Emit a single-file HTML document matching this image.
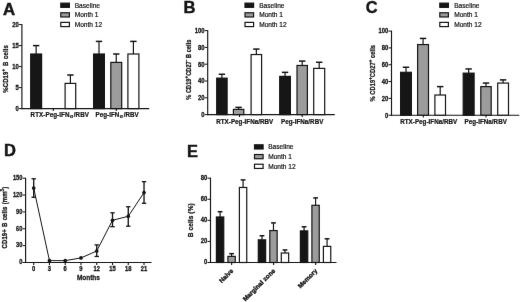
<!DOCTYPE html>
<html><head><meta charset="utf-8"><title>Figure</title>
<style>
html,body{margin:0;padding:0;background:#fff;}
body{width:520px;height:302px;overflow:hidden;font-family:"Liberation Sans",sans-serif;}
svg{display:block;}
svg text{font-family:"Liberation Sans",sans-serif;}
</style></head><body>
<svg width="520" height="302" viewBox="0 0 520 302">
<defs><filter id="soft" x="0" y="0" width="520" height="302" filterUnits="userSpaceOnUse" color-interpolation-filters="sRGB"><feConvolveMatrix order="3" kernelMatrix="0 1 0 1 22 1 0 1 0" divisor="26" edgeMode="duplicate" preserveAlpha="false"/></filter></defs>
<g filter="url(#soft)">
<rect x="0" y="0" width="520" height="302" fill="#ffffff"/>
<text x="0" y="0" font-size="16.8" font-weight="bold" text-anchor="start" fill="#161616" stroke="#161616" stroke-width="0.5" letter-spacing="0" word-spacing="0" transform="translate(3.00 14.70) rotate(0) scale(1.0 1.0)" >A</text>
<text x="0" y="0" font-size="16.6" font-weight="bold" text-anchor="start" fill="#161616" stroke="#161616" stroke-width="0.45" letter-spacing="0" word-spacing="0" transform="translate(183.50 13.10) rotate(0) scale(1.0 1.0)" >B</text>
<text x="0" y="0" font-size="16.4" font-weight="bold" text-anchor="start" fill="#161616" stroke="#161616" stroke-width="0.4" letter-spacing="0" word-spacing="0" transform="translate(365.80 13.40) rotate(0) scale(1.0 1.0)" >C</text>
<text x="0" y="0" font-size="16.5" font-weight="bold" text-anchor="start" fill="#161616" stroke="#161616" stroke-width="0.45" letter-spacing="0" word-spacing="0" transform="translate(3.90 156.20) rotate(0) scale(1.0 1.0)" >D</text>
<text x="0" y="0" font-size="16.4" font-weight="bold" text-anchor="start" fill="#161616" stroke="#161616" stroke-width="0.45" letter-spacing="0" word-spacing="0" transform="translate(186.90 156.60) rotate(0) scale(1.0 1.0)" >E</text>
<line x1="21.90" y1="24.10" x2="21.90" y2="109.15" stroke="#161616" stroke-width="1.15"/>
<line x1="18.90" y1="108.60" x2="21.90" y2="108.60" stroke="#161616" stroke-width="1.0"/>
<text x="0" y="0" font-size="5.9" font-weight="bold" text-anchor="end" fill="#161616" stroke="#161616" stroke-width="0.25" letter-spacing="0" word-spacing="0" transform="translate(18.70 110.95) rotate(0) scale(1.0 1.12)" >0</text>
<line x1="18.90" y1="87.60" x2="21.90" y2="87.60" stroke="#161616" stroke-width="1.0"/>
<text x="0" y="0" font-size="5.9" font-weight="bold" text-anchor="end" fill="#161616" stroke="#161616" stroke-width="0.25" letter-spacing="0" word-spacing="0" transform="translate(18.70 89.95) rotate(0) scale(1.0 1.12)" >5</text>
<line x1="18.90" y1="66.60" x2="21.90" y2="66.60" stroke="#161616" stroke-width="1.0"/>
<text x="0" y="0" font-size="5.9" font-weight="bold" text-anchor="end" fill="#161616" stroke="#161616" stroke-width="0.25" letter-spacing="0" word-spacing="0" transform="translate(18.70 68.95) rotate(0) scale(1.0 1.12)" >10</text>
<line x1="18.90" y1="45.60" x2="21.90" y2="45.60" stroke="#161616" stroke-width="1.0"/>
<text x="0" y="0" font-size="5.9" font-weight="bold" text-anchor="end" fill="#161616" stroke="#161616" stroke-width="0.25" letter-spacing="0" word-spacing="0" transform="translate(18.70 47.95) rotate(0) scale(1.0 1.12)" >15</text>
<line x1="18.90" y1="24.60" x2="21.90" y2="24.60" stroke="#161616" stroke-width="1.0"/>
<text x="0" y="0" font-size="5.9" font-weight="bold" text-anchor="end" fill="#161616" stroke="#161616" stroke-width="0.25" letter-spacing="0" word-spacing="0" transform="translate(18.70 26.95) rotate(0) scale(1.0 1.12)" >20</text>
<line x1="21.35" y1="108.60" x2="149.20" y2="108.60" stroke="#161616" stroke-width="1.15"/>
<line x1="53.30" y1="108.60" x2="53.30" y2="111.00" stroke="#161616" stroke-width="1.1"/>
<line x1="116.30" y1="108.60" x2="116.30" y2="111.00" stroke="#161616" stroke-width="1.1"/>
<line x1="36.15" y1="54.00" x2="36.15" y2="45.60" stroke="#161616" stroke-width="1.2"/>
<line x1="32.95" y1="45.60" x2="39.35" y2="45.60" stroke="#161616" stroke-width="1.5"/>
<rect x="30.70" y="54.00" width="10.90" height="54.60" fill="#161616" stroke="#161616" stroke-width="1.2"/>
<line x1="70.40" y1="83.40" x2="70.40" y2="75.00" stroke="#161616" stroke-width="1.2"/>
<line x1="67.20" y1="75.00" x2="73.60" y2="75.00" stroke="#161616" stroke-width="1.5"/>
<rect x="65.10" y="83.40" width="10.60" height="25.20" fill="#fff" stroke="#161616" stroke-width="1.2"/>
<line x1="99.00" y1="54.00" x2="99.00" y2="41.40" stroke="#161616" stroke-width="1.2"/>
<line x1="95.80" y1="41.40" x2="102.20" y2="41.40" stroke="#161616" stroke-width="1.5"/>
<rect x="93.60" y="54.00" width="10.80" height="54.60" fill="#161616" stroke="#161616" stroke-width="1.2"/>
<line x1="116.25" y1="62.40" x2="116.25" y2="54.00" stroke="#161616" stroke-width="1.2"/>
<line x1="113.05" y1="54.00" x2="119.45" y2="54.00" stroke="#161616" stroke-width="1.5"/>
<rect x="110.80" y="62.40" width="10.90" height="46.20" fill="#9c9c9c" stroke="#161616" stroke-width="1.2"/>
<line x1="133.40" y1="54.00" x2="133.40" y2="41.40" stroke="#161616" stroke-width="1.2"/>
<line x1="130.20" y1="41.40" x2="136.60" y2="41.40" stroke="#161616" stroke-width="1.5"/>
<rect x="127.90" y="54.00" width="11.00" height="54.60" fill="#fff" stroke="#161616" stroke-width="1.2"/>
<text x="0" y="0" font-size="6.25" font-weight="bold" text-anchor="start" fill="#161616" stroke="#161616" stroke-width="0.22" letter-spacing="0.07" word-spacing="0" transform="translate(30.60 117.20) rotate(0) scale(1.0 1.04)" >RTX-Peg-IFN<tspan font-size="5.0" dy="1.0" dx="0.5" stroke-width="0.2">α</tspan><tspan dy="-1.0" dx="0.7">/RBV</tspan></text>
<text x="0" y="0" font-size="6.25" font-weight="bold" text-anchor="start" fill="#161616" stroke="#161616" stroke-width="0.22" letter-spacing="0.04" word-spacing="0" transform="translate(95.50 117.20) rotate(0) scale(1.0 1.04)" >Peg-IFN<tspan font-size="5.0" dy="1.0" dx="0.5" stroke-width="0.2">α</tspan><tspan dy="-1.0" dx="0.7">/RBV</tspan></text>
<text x="0" y="0" font-size="6.0" font-weight="bold" text-anchor="middle" fill="#161616" stroke="#161616" stroke-width="0.24" letter-spacing="0.1" word-spacing="1.0" transform="translate(7.50 68.90) rotate(-90) scale(1.0 1.15)" >%CD19<tspan dy="-2.3" font-size="4.4">+</tspan><tspan dy="2.3"> B cells</tspan></text>
<rect x="60.80" y="3.15" width="8.60" height="4.20" fill="#161616" stroke="#161616" stroke-width="1.2"/>
<text x="0" y="0" font-size="6.6" font-weight="normal" text-anchor="start" fill="#161616" stroke="#161616" stroke-width="0.2" letter-spacing="0" word-spacing="0" transform="translate(74.70 7.55) rotate(0) scale(1.0 1.0)" >Baseline</text>
<rect x="60.80" y="12.77" width="8.60" height="4.20" fill="#9c9c9c" stroke="#161616" stroke-width="1.2"/>
<text x="0" y="0" font-size="6.6" font-weight="normal" text-anchor="start" fill="#161616" stroke="#161616" stroke-width="0.2" letter-spacing="0" word-spacing="0" transform="translate(74.70 17.17) rotate(0) scale(1.0 1.0)" >Month 1</text>
<rect x="60.80" y="22.39" width="8.60" height="4.20" fill="#fff" stroke="#161616" stroke-width="1.2"/>
<text x="0" y="0" font-size="6.6" font-weight="normal" text-anchor="start" fill="#161616" stroke="#161616" stroke-width="0.2" letter-spacing="0" word-spacing="0" transform="translate(74.70 26.79) rotate(0) scale(1.0 1.0)" >Month 12</text>
<line x1="207.70" y1="30.10" x2="207.70" y2="115.15" stroke="#161616" stroke-width="1.15"/>
<line x1="204.70" y1="114.60" x2="207.70" y2="114.60" stroke="#161616" stroke-width="1.0"/>
<text x="0" y="0" font-size="5.9" font-weight="bold" text-anchor="end" fill="#161616" stroke="#161616" stroke-width="0.25" letter-spacing="0" word-spacing="0" transform="translate(204.50 116.95) rotate(0) scale(1.0 1.12)" >0</text>
<line x1="204.70" y1="97.80" x2="207.70" y2="97.80" stroke="#161616" stroke-width="1.0"/>
<text x="0" y="0" font-size="5.9" font-weight="bold" text-anchor="end" fill="#161616" stroke="#161616" stroke-width="0.25" letter-spacing="0" word-spacing="0" transform="translate(204.50 100.15) rotate(0) scale(1.0 1.12)" >20</text>
<line x1="204.70" y1="81.00" x2="207.70" y2="81.00" stroke="#161616" stroke-width="1.0"/>
<text x="0" y="0" font-size="5.9" font-weight="bold" text-anchor="end" fill="#161616" stroke="#161616" stroke-width="0.25" letter-spacing="0" word-spacing="0" transform="translate(204.50 83.35) rotate(0) scale(1.0 1.12)" >40</text>
<line x1="204.70" y1="64.20" x2="207.70" y2="64.20" stroke="#161616" stroke-width="1.0"/>
<text x="0" y="0" font-size="5.9" font-weight="bold" text-anchor="end" fill="#161616" stroke="#161616" stroke-width="0.25" letter-spacing="0" word-spacing="0" transform="translate(204.50 66.55) rotate(0) scale(1.0 1.12)" >60</text>
<line x1="204.70" y1="47.40" x2="207.70" y2="47.40" stroke="#161616" stroke-width="1.0"/>
<text x="0" y="0" font-size="5.9" font-weight="bold" text-anchor="end" fill="#161616" stroke="#161616" stroke-width="0.25" letter-spacing="0" word-spacing="0" transform="translate(204.50 49.75) rotate(0) scale(1.0 1.12)" >80</text>
<line x1="204.70" y1="30.60" x2="207.70" y2="30.60" stroke="#161616" stroke-width="1.0"/>
<text x="0" y="0" font-size="5.9" font-weight="bold" text-anchor="end" fill="#161616" stroke="#161616" stroke-width="0.25" letter-spacing="0" word-spacing="0" transform="translate(204.50 32.95) rotate(0) scale(1.0 1.12)" >100</text>
<line x1="207.15" y1="114.60" x2="334.80" y2="114.60" stroke="#161616" stroke-width="1.15"/>
<line x1="239.50" y1="114.60" x2="239.50" y2="117.00" stroke="#161616" stroke-width="1.1"/>
<line x1="302.20" y1="114.60" x2="302.20" y2="117.00" stroke="#161616" stroke-width="1.1"/>
<line x1="221.90" y1="78.14" x2="221.90" y2="74.28" stroke="#161616" stroke-width="1.2"/>
<line x1="218.70" y1="74.28" x2="225.10" y2="74.28" stroke="#161616" stroke-width="1.5"/>
<rect x="216.70" y="78.14" width="10.40" height="36.46" fill="#161616" stroke="#161616" stroke-width="1.2"/>
<line x1="238.60" y1="109.39" x2="238.60" y2="107.38" stroke="#161616" stroke-width="1.2"/>
<line x1="235.40" y1="107.38" x2="241.80" y2="107.38" stroke="#161616" stroke-width="1.5"/>
<rect x="233.40" y="109.39" width="10.40" height="5.21" fill="#9c9c9c" stroke="#161616" stroke-width="1.2"/>
<line x1="256.35" y1="54.54" x2="256.35" y2="49.08" stroke="#161616" stroke-width="1.2"/>
<line x1="253.15" y1="49.08" x2="259.55" y2="49.08" stroke="#161616" stroke-width="1.5"/>
<rect x="251.10" y="54.54" width="10.50" height="60.06" fill="#fff" stroke="#161616" stroke-width="1.2"/>
<line x1="285.05" y1="76.38" x2="285.05" y2="72.35" stroke="#161616" stroke-width="1.2"/>
<line x1="281.85" y1="72.35" x2="288.25" y2="72.35" stroke="#161616" stroke-width="1.5"/>
<rect x="279.70" y="76.38" width="10.70" height="38.22" fill="#161616" stroke="#161616" stroke-width="1.2"/>
<line x1="302.20" y1="65.46" x2="302.20" y2="61.09" stroke="#161616" stroke-width="1.2"/>
<line x1="299.00" y1="61.09" x2="305.40" y2="61.09" stroke="#161616" stroke-width="1.5"/>
<rect x="297.00" y="65.46" width="10.40" height="49.14" fill="#9c9c9c" stroke="#161616" stroke-width="1.2"/>
<line x1="319.20" y1="68.40" x2="319.20" y2="62.27" stroke="#161616" stroke-width="1.2"/>
<line x1="316.00" y1="62.27" x2="322.40" y2="62.27" stroke="#161616" stroke-width="1.5"/>
<rect x="313.70" y="68.40" width="11.00" height="46.20" fill="#fff" stroke="#161616" stroke-width="1.2"/>
<text x="0" y="0" font-size="6.25" font-weight="bold" text-anchor="start" fill="#161616" stroke="#161616" stroke-width="0.22" letter-spacing="0.04" word-spacing="0" transform="translate(216.20 123.60) rotate(0) scale(1.0 1.04)" >RTX-Peg-IFNa/RBV</text>
<text x="0" y="0" font-size="6.25" font-weight="bold" text-anchor="start" fill="#161616" stroke="#161616" stroke-width="0.22" letter-spacing="0.04" word-spacing="0" transform="translate(281.00 123.60) rotate(0) scale(1.0 1.04)" >Peg-IFNa/RBV</text>
<text x="0" y="0" font-size="5.6" font-weight="bold" text-anchor="middle" fill="#161616" stroke="#161616" stroke-width="0.24" letter-spacing="0.08" word-spacing="0" transform="translate(190.50 69.60) rotate(-90) scale(1.0 1.15)" >% CD19<tspan dy="-2.3" font-size="4.4">+</tspan><tspan dy="2.3">CD27</tspan><tspan dy="-2.3" font-size="4.4">-</tspan><tspan dy="2.3"> B cells</tspan></text>
<rect x="245.00" y="3.15" width="8.60" height="4.20" fill="#161616" stroke="#161616" stroke-width="1.2"/>
<text x="0" y="0" font-size="6.6" font-weight="normal" text-anchor="start" fill="#161616" stroke="#161616" stroke-width="0.2" letter-spacing="0" word-spacing="0" transform="translate(259.20 7.55) rotate(0) scale(1.0 1.0)" >Baseline</text>
<rect x="245.00" y="12.77" width="8.60" height="4.20" fill="#9c9c9c" stroke="#161616" stroke-width="1.2"/>
<text x="0" y="0" font-size="6.6" font-weight="normal" text-anchor="start" fill="#161616" stroke="#161616" stroke-width="0.2" letter-spacing="0" word-spacing="0" transform="translate(259.20 17.17) rotate(0) scale(1.0 1.0)" >Month 1</text>
<rect x="245.00" y="22.39" width="8.60" height="4.20" fill="#fff" stroke="#161616" stroke-width="1.2"/>
<text x="0" y="0" font-size="6.6" font-weight="normal" text-anchor="start" fill="#161616" stroke="#161616" stroke-width="0.2" letter-spacing="0" word-spacing="0" transform="translate(259.20 26.79) rotate(0) scale(1.0 1.0)" >Month 12</text>
<line x1="391.50" y1="30.60" x2="391.50" y2="115.75" stroke="#161616" stroke-width="1.15"/>
<line x1="388.50" y1="115.20" x2="391.50" y2="115.20" stroke="#161616" stroke-width="1.0"/>
<text x="0" y="0" font-size="5.9" font-weight="bold" text-anchor="end" fill="#161616" stroke="#161616" stroke-width="0.25" letter-spacing="0" word-spacing="0" transform="translate(388.30 117.55) rotate(0) scale(1.0 1.12)" >0</text>
<line x1="388.50" y1="98.38" x2="391.50" y2="98.38" stroke="#161616" stroke-width="1.0"/>
<text x="0" y="0" font-size="5.9" font-weight="bold" text-anchor="end" fill="#161616" stroke="#161616" stroke-width="0.25" letter-spacing="0" word-spacing="0" transform="translate(388.30 100.73) rotate(0) scale(1.0 1.12)" >20</text>
<line x1="388.50" y1="81.56" x2="391.50" y2="81.56" stroke="#161616" stroke-width="1.0"/>
<text x="0" y="0" font-size="5.9" font-weight="bold" text-anchor="end" fill="#161616" stroke="#161616" stroke-width="0.25" letter-spacing="0" word-spacing="0" transform="translate(388.30 83.91) rotate(0) scale(1.0 1.12)" >40</text>
<line x1="388.50" y1="64.74" x2="391.50" y2="64.74" stroke="#161616" stroke-width="1.0"/>
<text x="0" y="0" font-size="5.9" font-weight="bold" text-anchor="end" fill="#161616" stroke="#161616" stroke-width="0.25" letter-spacing="0" word-spacing="0" transform="translate(388.30 67.09) rotate(0) scale(1.0 1.12)" >60</text>
<line x1="388.50" y1="47.92" x2="391.50" y2="47.92" stroke="#161616" stroke-width="1.0"/>
<text x="0" y="0" font-size="5.9" font-weight="bold" text-anchor="end" fill="#161616" stroke="#161616" stroke-width="0.25" letter-spacing="0" word-spacing="0" transform="translate(388.30 50.27) rotate(0) scale(1.0 1.12)" >80</text>
<line x1="388.50" y1="31.10" x2="391.50" y2="31.10" stroke="#161616" stroke-width="1.0"/>
<text x="0" y="0" font-size="5.9" font-weight="bold" text-anchor="end" fill="#161616" stroke="#161616" stroke-width="0.25" letter-spacing="0" word-spacing="0" transform="translate(388.30 33.45) rotate(0) scale(1.0 1.12)" >100</text>
<line x1="390.95" y1="115.20" x2="519.30" y2="115.20" stroke="#161616" stroke-width="1.15"/>
<line x1="423.30" y1="115.20" x2="423.30" y2="117.60" stroke="#161616" stroke-width="1.1"/>
<line x1="486.00" y1="115.20" x2="486.00" y2="117.60" stroke="#161616" stroke-width="1.1"/>
<line x1="406.00" y1="72.31" x2="406.00" y2="67.26" stroke="#161616" stroke-width="1.2"/>
<line x1="402.80" y1="67.26" x2="409.20" y2="67.26" stroke="#161616" stroke-width="1.5"/>
<rect x="400.60" y="72.31" width="10.80" height="42.89" fill="#161616" stroke="#161616" stroke-width="1.2"/>
<line x1="423.05" y1="44.56" x2="423.05" y2="38.42" stroke="#161616" stroke-width="1.2"/>
<line x1="419.85" y1="38.42" x2="426.25" y2="38.42" stroke="#161616" stroke-width="1.5"/>
<rect x="417.60" y="44.56" width="10.90" height="70.64" fill="#9c9c9c" stroke="#161616" stroke-width="1.2"/>
<line x1="440.20" y1="95.02" x2="440.20" y2="86.61" stroke="#161616" stroke-width="1.2"/>
<line x1="437.00" y1="86.61" x2="443.40" y2="86.61" stroke="#161616" stroke-width="1.5"/>
<rect x="434.90" y="95.02" width="10.60" height="20.18" fill="#fff" stroke="#161616" stroke-width="1.2"/>
<line x1="468.65" y1="73.15" x2="468.65" y2="68.94" stroke="#161616" stroke-width="1.2"/>
<line x1="465.45" y1="68.94" x2="471.85" y2="68.94" stroke="#161616" stroke-width="1.5"/>
<rect x="463.20" y="73.15" width="10.90" height="42.05" fill="#161616" stroke="#161616" stroke-width="1.2"/>
<line x1="486.00" y1="86.61" x2="486.00" y2="83.07" stroke="#161616" stroke-width="1.2"/>
<line x1="482.80" y1="83.07" x2="489.20" y2="83.07" stroke="#161616" stroke-width="1.5"/>
<rect x="480.80" y="86.61" width="10.40" height="28.59" fill="#9c9c9c" stroke="#161616" stroke-width="1.2"/>
<line x1="503.10" y1="83.07" x2="503.10" y2="79.88" stroke="#161616" stroke-width="1.2"/>
<line x1="499.90" y1="79.88" x2="506.30" y2="79.88" stroke="#161616" stroke-width="1.5"/>
<rect x="497.70" y="83.07" width="10.80" height="32.13" fill="#fff" stroke="#161616" stroke-width="1.2"/>
<text x="0" y="0" font-size="6.25" font-weight="bold" text-anchor="start" fill="#161616" stroke="#161616" stroke-width="0.22" letter-spacing="0.04" word-spacing="0" transform="translate(400.20 123.90) rotate(0) scale(1.0 1.04)" >RTX-Peg-IFNa/RBV</text>
<text x="0" y="0" font-size="6.25" font-weight="bold" text-anchor="start" fill="#161616" stroke="#161616" stroke-width="0.22" letter-spacing="0.04" word-spacing="0" transform="translate(464.50 123.90) rotate(0) scale(1.0 1.04)" >Peg-IFNa/RBV</text>
<text x="0" y="0" font-size="5.7" font-weight="bold" text-anchor="middle" fill="#161616" stroke="#161616" stroke-width="0.24" letter-spacing="0.08" word-spacing="0" transform="translate(374.50 73.20) rotate(-90) scale(1.0 1.15)" >% CD19<tspan dy="-2.3" font-size="4.4">+</tspan><tspan dy="2.3">CD27</tspan><tspan dy="-2.3" font-size="4.4">+</tspan><tspan dy="2.3"> cells</tspan></text>
<rect x="439.80" y="3.15" width="8.60" height="4.20" fill="#161616" stroke="#161616" stroke-width="1.2"/>
<text x="0" y="0" font-size="6.6" font-weight="normal" text-anchor="start" fill="#161616" stroke="#161616" stroke-width="0.2" letter-spacing="0" word-spacing="0" transform="translate(454.20 7.55) rotate(0) scale(1.0 1.0)" >Baseline</text>
<rect x="439.80" y="12.77" width="8.60" height="4.20" fill="#9c9c9c" stroke="#161616" stroke-width="1.2"/>
<text x="0" y="0" font-size="6.6" font-weight="normal" text-anchor="start" fill="#161616" stroke="#161616" stroke-width="0.2" letter-spacing="0" word-spacing="0" transform="translate(454.20 17.17) rotate(0) scale(1.0 1.0)" >Month 1</text>
<rect x="439.80" y="22.39" width="8.60" height="4.20" fill="#fff" stroke="#161616" stroke-width="1.2"/>
<text x="0" y="0" font-size="6.6" font-weight="normal" text-anchor="start" fill="#161616" stroke="#161616" stroke-width="0.2" letter-spacing="0" word-spacing="0" transform="translate(454.20 26.79) rotate(0) scale(1.0 1.0)" >Month 12</text>
<line x1="25.60" y1="177.70" x2="25.60" y2="263.05" stroke="#161616" stroke-width="1.15"/>
<line x1="22.60" y1="262.50" x2="25.60" y2="262.50" stroke="#161616" stroke-width="1.0"/>
<text x="0" y="0" font-size="5.7" font-weight="bold" text-anchor="end" fill="#161616" stroke="#161616" stroke-width="0.25" letter-spacing="0" word-spacing="0" transform="translate(22.40 264.35) rotate(0) scale(1.0 1.12)" >0</text>
<line x1="22.60" y1="245.64" x2="25.60" y2="245.64" stroke="#161616" stroke-width="1.0"/>
<text x="0" y="0" font-size="5.7" font-weight="bold" text-anchor="end" fill="#161616" stroke="#161616" stroke-width="0.25" letter-spacing="0" word-spacing="0" transform="translate(22.40 247.49) rotate(0) scale(1.0 1.12)" >30</text>
<line x1="22.60" y1="228.78" x2="25.60" y2="228.78" stroke="#161616" stroke-width="1.0"/>
<text x="0" y="0" font-size="5.7" font-weight="bold" text-anchor="end" fill="#161616" stroke="#161616" stroke-width="0.25" letter-spacing="0" word-spacing="0" transform="translate(22.40 230.63) rotate(0) scale(1.0 1.12)" >60</text>
<line x1="22.60" y1="211.92" x2="25.60" y2="211.92" stroke="#161616" stroke-width="1.0"/>
<text x="0" y="0" font-size="5.7" font-weight="bold" text-anchor="end" fill="#161616" stroke="#161616" stroke-width="0.25" letter-spacing="0" word-spacing="0" transform="translate(22.40 213.77) rotate(0) scale(1.0 1.12)" >90</text>
<line x1="22.60" y1="195.06" x2="25.60" y2="195.06" stroke="#161616" stroke-width="1.0"/>
<text x="0" y="0" font-size="5.7" font-weight="bold" text-anchor="end" fill="#161616" stroke="#161616" stroke-width="0.25" letter-spacing="0" word-spacing="0" transform="translate(22.40 196.91) rotate(0) scale(1.0 1.12)" >120</text>
<line x1="22.60" y1="178.20" x2="25.60" y2="178.20" stroke="#161616" stroke-width="1.0"/>
<text x="0" y="0" font-size="5.7" font-weight="bold" text-anchor="end" fill="#161616" stroke="#161616" stroke-width="0.25" letter-spacing="0" word-spacing="0" transform="translate(22.40 180.05) rotate(0) scale(1.0 1.12)" >150</text>
<line x1="25.05" y1="262.50" x2="151.50" y2="262.50" stroke="#161616" stroke-width="1.15"/>
<line x1="33.70" y1="262.50" x2="33.70" y2="265.10" stroke="#161616" stroke-width="1.1"/>
<text x="0" y="0" font-size="5.8" font-weight="bold" text-anchor="middle" fill="#161616" stroke="#161616" stroke-width="0.25" letter-spacing="0" word-spacing="0" transform="translate(33.70 270.85) rotate(0) scale(1.0 1.16)" >0</text>
<line x1="49.46" y1="262.50" x2="49.46" y2="265.10" stroke="#161616" stroke-width="1.1"/>
<text x="0" y="0" font-size="5.8" font-weight="bold" text-anchor="middle" fill="#161616" stroke="#161616" stroke-width="0.25" letter-spacing="0" word-spacing="0" transform="translate(49.46 270.85) rotate(0) scale(1.0 1.16)" >3</text>
<line x1="65.22" y1="262.50" x2="65.22" y2="265.10" stroke="#161616" stroke-width="1.1"/>
<text x="0" y="0" font-size="5.8" font-weight="bold" text-anchor="middle" fill="#161616" stroke="#161616" stroke-width="0.25" letter-spacing="0" word-spacing="0" transform="translate(65.22 270.85) rotate(0) scale(1.0 1.16)" >6</text>
<line x1="80.98" y1="262.50" x2="80.98" y2="265.10" stroke="#161616" stroke-width="1.1"/>
<text x="0" y="0" font-size="5.8" font-weight="bold" text-anchor="middle" fill="#161616" stroke="#161616" stroke-width="0.25" letter-spacing="0" word-spacing="0" transform="translate(80.98 270.85) rotate(0) scale(1.0 1.16)" >9</text>
<line x1="96.74" y1="262.50" x2="96.74" y2="265.10" stroke="#161616" stroke-width="1.1"/>
<text x="0" y="0" font-size="5.8" font-weight="bold" text-anchor="middle" fill="#161616" stroke="#161616" stroke-width="0.25" letter-spacing="0" word-spacing="0" transform="translate(96.74 270.85) rotate(0) scale(1.0 1.16)" >12</text>
<line x1="112.50" y1="262.50" x2="112.50" y2="265.10" stroke="#161616" stroke-width="1.1"/>
<text x="0" y="0" font-size="5.8" font-weight="bold" text-anchor="middle" fill="#161616" stroke="#161616" stroke-width="0.25" letter-spacing="0" word-spacing="0" transform="translate(112.50 270.85) rotate(0) scale(1.0 1.16)" >15</text>
<line x1="128.26" y1="262.50" x2="128.26" y2="265.10" stroke="#161616" stroke-width="1.1"/>
<text x="0" y="0" font-size="5.8" font-weight="bold" text-anchor="middle" fill="#161616" stroke="#161616" stroke-width="0.25" letter-spacing="0" word-spacing="0" transform="translate(128.26 270.85) rotate(0) scale(1.0 1.16)" >18</text>
<line x1="144.02" y1="262.50" x2="144.02" y2="265.10" stroke="#161616" stroke-width="1.1"/>
<text x="0" y="0" font-size="5.8" font-weight="bold" text-anchor="middle" fill="#161616" stroke="#161616" stroke-width="0.25" letter-spacing="0" word-spacing="0" transform="translate(144.02 270.85) rotate(0) scale(1.0 1.16)" >21</text>
<polyline points="33.70,188.03 49.46,260.65 65.22,260.65 80.98,257.95 96.74,250.98 112.50,220.29 128.26,216.30 144.02,192.59" fill="none" stroke="#161616" stroke-width="1.0"/>
<line x1="33.70" y1="197.31" x2="33.70" y2="178.76" stroke="#161616" stroke-width="1.35"/>
<line x1="31.50" y1="197.31" x2="35.90" y2="197.31" stroke="#161616" stroke-width="1.3"/>
<line x1="31.50" y1="178.76" x2="35.90" y2="178.76" stroke="#161616" stroke-width="1.3"/>
<circle cx="33.70" cy="188.03" r="1.85" fill="#161616"/>
<circle cx="49.46" cy="260.65" r="1.85" fill="#161616"/>
<circle cx="65.22" cy="260.65" r="1.85" fill="#161616"/>
<circle cx="80.98" cy="257.95" r="1.85" fill="#161616"/>
<line x1="96.74" y1="256.49" x2="96.74" y2="244.91" stroke="#161616" stroke-width="1.35"/>
<line x1="94.54" y1="256.49" x2="98.94" y2="256.49" stroke="#161616" stroke-width="1.3"/>
<line x1="94.54" y1="244.91" x2="98.94" y2="244.91" stroke="#161616" stroke-width="1.3"/>
<circle cx="96.74" cy="250.98" r="1.85" fill="#161616"/>
<line x1="112.50" y1="226.70" x2="112.50" y2="212.82" stroke="#161616" stroke-width="1.35"/>
<line x1="110.30" y1="226.70" x2="114.70" y2="226.70" stroke="#161616" stroke-width="1.3"/>
<line x1="110.30" y1="212.82" x2="114.70" y2="212.82" stroke="#161616" stroke-width="1.3"/>
<circle cx="112.50" cy="220.29" r="1.85" fill="#161616"/>
<line x1="128.26" y1="226.19" x2="128.26" y2="206.75" stroke="#161616" stroke-width="1.35"/>
<line x1="126.06" y1="226.19" x2="130.46" y2="226.19" stroke="#161616" stroke-width="1.3"/>
<line x1="126.06" y1="206.75" x2="130.46" y2="206.75" stroke="#161616" stroke-width="1.3"/>
<circle cx="128.26" cy="216.30" r="1.85" fill="#161616"/>
<line x1="144.02" y1="203.32" x2="144.02" y2="181.68" stroke="#161616" stroke-width="1.35"/>
<line x1="141.82" y1="203.32" x2="146.22" y2="203.32" stroke="#161616" stroke-width="1.3"/>
<line x1="141.82" y1="181.68" x2="146.22" y2="181.68" stroke="#161616" stroke-width="1.3"/>
<circle cx="144.02" cy="192.59" r="1.85" fill="#161616"/>
<text x="0" y="0" font-size="6.5" font-weight="bold" text-anchor="middle" fill="#161616" stroke="#161616" stroke-width="0.25" letter-spacing="0" word-spacing="0" transform="translate(88.40 280.30) rotate(0) scale(1.0 1.03)" >Months</text>
<text x="0" y="0" font-size="6.0" font-weight="bold" text-anchor="middle" fill="#161616" stroke="#161616" stroke-width="0.26" letter-spacing="0.1" word-spacing="0.4" transform="translate(7.30 217.60) rotate(-90) scale(1.0 1.22)" >CD19+ B cells (mm<tspan dy="-2.3" font-size="4.4">3</tspan><tspan dy="2.3">)</tspan></text>
<line x1="210.50" y1="177.70" x2="210.50" y2="263.05" stroke="#161616" stroke-width="1.15"/>
<line x1="207.50" y1="262.50" x2="210.50" y2="262.50" stroke="#161616" stroke-width="1.0"/>
<text x="0" y="0" font-size="5.9" font-weight="bold" text-anchor="end" fill="#161616" stroke="#161616" stroke-width="0.25" letter-spacing="0" word-spacing="0" transform="translate(207.30 264.35) rotate(0) scale(1.0 1.12)" >0</text>
<line x1="207.50" y1="241.43" x2="210.50" y2="241.43" stroke="#161616" stroke-width="1.0"/>
<text x="0" y="0" font-size="5.9" font-weight="bold" text-anchor="end" fill="#161616" stroke="#161616" stroke-width="0.25" letter-spacing="0" word-spacing="0" transform="translate(207.30 243.28) rotate(0) scale(1.0 1.12)" >20</text>
<line x1="207.50" y1="220.35" x2="210.50" y2="220.35" stroke="#161616" stroke-width="1.0"/>
<text x="0" y="0" font-size="5.9" font-weight="bold" text-anchor="end" fill="#161616" stroke="#161616" stroke-width="0.25" letter-spacing="0" word-spacing="0" transform="translate(207.30 222.20) rotate(0) scale(1.0 1.12)" >40</text>
<line x1="207.50" y1="199.27" x2="210.50" y2="199.27" stroke="#161616" stroke-width="1.0"/>
<text x="0" y="0" font-size="5.9" font-weight="bold" text-anchor="end" fill="#161616" stroke="#161616" stroke-width="0.25" letter-spacing="0" word-spacing="0" transform="translate(207.30 201.12) rotate(0) scale(1.0 1.12)" >60</text>
<line x1="207.50" y1="178.20" x2="210.50" y2="178.20" stroke="#161616" stroke-width="1.0"/>
<text x="0" y="0" font-size="5.9" font-weight="bold" text-anchor="end" fill="#161616" stroke="#161616" stroke-width="0.25" letter-spacing="0" word-spacing="0" transform="translate(207.30 180.05) rotate(0) scale(1.0 1.12)" >80</text>
<line x1="209.95" y1="262.50" x2="336.50" y2="262.50" stroke="#161616" stroke-width="1.15"/>
<line x1="220.07" y1="216.98" x2="220.07" y2="211.71" stroke="#161616" stroke-width="1.2"/>
<line x1="217.67" y1="211.71" x2="222.47" y2="211.71" stroke="#161616" stroke-width="1.5"/>
<rect x="216.40" y="216.98" width="7.35" height="45.52" fill="#161616" stroke="#161616" stroke-width="1.2"/>
<line x1="231.57" y1="256.39" x2="231.57" y2="253.65" stroke="#161616" stroke-width="1.2"/>
<line x1="229.17" y1="253.65" x2="233.97" y2="253.65" stroke="#161616" stroke-width="1.5"/>
<rect x="227.90" y="256.39" width="7.35" height="6.11" fill="#9c9c9c" stroke="#161616" stroke-width="1.2"/>
<line x1="243.07" y1="187.47" x2="243.07" y2="179.89" stroke="#161616" stroke-width="1.2"/>
<line x1="240.67" y1="179.89" x2="245.47" y2="179.89" stroke="#161616" stroke-width="1.5"/>
<rect x="239.40" y="187.47" width="7.35" height="75.03" fill="#fff" stroke="#161616" stroke-width="1.2"/>
<line x1="231.65" y1="262.50" x2="231.65" y2="264.90" stroke="#161616" stroke-width="1.1"/>
<text x="0" y="0" font-size="6.3" font-weight="bold" text-anchor="end" fill="#161616" stroke="#161616" stroke-width="0.36" letter-spacing="0.05" word-spacing="0" transform="translate(233.75 271.30) rotate(-45) scale(1.0 1.0)" >Naive</text>
<line x1="261.98" y1="239.84" x2="261.98" y2="235.73" stroke="#161616" stroke-width="1.2"/>
<line x1="259.58" y1="235.73" x2="264.38" y2="235.73" stroke="#161616" stroke-width="1.5"/>
<rect x="258.30" y="239.84" width="7.35" height="22.66" fill="#161616" stroke="#161616" stroke-width="1.2"/>
<line x1="273.48" y1="230.57" x2="273.48" y2="222.88" stroke="#161616" stroke-width="1.2"/>
<line x1="271.08" y1="222.88" x2="275.88" y2="222.88" stroke="#161616" stroke-width="1.5"/>
<rect x="269.80" y="230.57" width="7.35" height="31.93" fill="#9c9c9c" stroke="#161616" stroke-width="1.2"/>
<line x1="284.98" y1="253.02" x2="284.98" y2="249.96" stroke="#161616" stroke-width="1.2"/>
<line x1="282.58" y1="249.96" x2="287.38" y2="249.96" stroke="#161616" stroke-width="1.5"/>
<rect x="281.30" y="253.02" width="7.35" height="9.48" fill="#fff" stroke="#161616" stroke-width="1.2"/>
<line x1="273.55" y1="262.50" x2="273.55" y2="264.90" stroke="#161616" stroke-width="1.1"/>
<text x="0" y="0" font-size="6.3" font-weight="bold" text-anchor="end" fill="#161616" stroke="#161616" stroke-width="0.36" letter-spacing="0.05" word-spacing="0" transform="translate(275.65 271.30) rotate(-45) scale(1.0 1.0)" >Marginal zone</text>
<line x1="304.07" y1="230.89" x2="304.07" y2="226.78" stroke="#161616" stroke-width="1.2"/>
<line x1="301.68" y1="226.78" x2="306.47" y2="226.78" stroke="#161616" stroke-width="1.5"/>
<rect x="300.40" y="230.89" width="7.35" height="31.61" fill="#161616" stroke="#161616" stroke-width="1.2"/>
<line x1="315.57" y1="205.28" x2="315.57" y2="197.91" stroke="#161616" stroke-width="1.2"/>
<line x1="313.18" y1="197.91" x2="317.97" y2="197.91" stroke="#161616" stroke-width="1.5"/>
<rect x="311.90" y="205.28" width="7.35" height="57.22" fill="#9c9c9c" stroke="#161616" stroke-width="1.2"/>
<line x1="327.07" y1="246.38" x2="327.07" y2="238.79" stroke="#161616" stroke-width="1.2"/>
<line x1="324.68" y1="238.79" x2="329.47" y2="238.79" stroke="#161616" stroke-width="1.5"/>
<rect x="323.40" y="246.38" width="7.35" height="16.12" fill="#fff" stroke="#161616" stroke-width="1.2"/>
<line x1="315.65" y1="262.50" x2="315.65" y2="264.90" stroke="#161616" stroke-width="1.1"/>
<text x="0" y="0" font-size="6.3" font-weight="bold" text-anchor="end" fill="#161616" stroke="#161616" stroke-width="0.36" letter-spacing="0.05" word-spacing="0" transform="translate(317.75 271.30) rotate(-45) scale(1.0 1.0)" >Memory</text>
<text x="0" y="0" font-size="6.5" font-weight="bold" text-anchor="middle" fill="#161616" stroke="#161616" stroke-width="0.24" letter-spacing="0.1" word-spacing="0" transform="translate(193.00 220.20) rotate(-90) scale(1.0 1.12)" >B cells (%)</text>
<rect x="254.50" y="144.80" width="8.60" height="4.20" fill="#161616" stroke="#161616" stroke-width="1.2"/>
<text x="0" y="0" font-size="6.6" font-weight="normal" text-anchor="start" fill="#161616" stroke="#161616" stroke-width="0.2" letter-spacing="0" word-spacing="0" transform="translate(268.20 149.20) rotate(0) scale(1.0 1.0)" >Baseline</text>
<rect x="254.50" y="154.52" width="8.60" height="4.20" fill="#9c9c9c" stroke="#161616" stroke-width="1.2"/>
<text x="0" y="0" font-size="6.6" font-weight="normal" text-anchor="start" fill="#161616" stroke="#161616" stroke-width="0.2" letter-spacing="0" word-spacing="0" transform="translate(268.20 158.92) rotate(0) scale(1.0 1.0)" >Month 1</text>
<rect x="254.50" y="164.24" width="8.60" height="4.20" fill="#fff" stroke="#161616" stroke-width="1.2"/>
<text x="0" y="0" font-size="6.6" font-weight="normal" text-anchor="start" fill="#161616" stroke="#161616" stroke-width="0.2" letter-spacing="0" word-spacing="0" transform="translate(268.20 168.64) rotate(0) scale(1.0 1.0)" >Month 12</text>
</g>
</svg>
</body></html>
